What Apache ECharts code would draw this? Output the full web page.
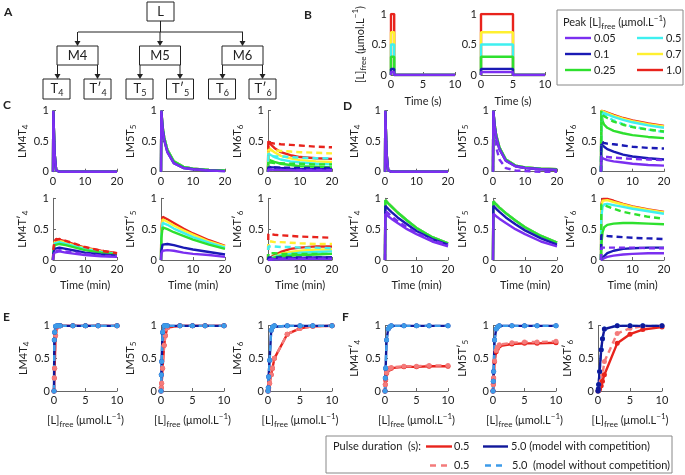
<!DOCTYPE html>
<html><head><meta charset="utf-8">
<script src="https://cdn.jsdelivr.net/npm/echarts@6/dist/echarts.min.js"></script>
<style>html,body{margin:0;padding:0;background:#fff}#c{width:685px;height:475px}</style>
</head><body><div id="c"></div>
<script>
// ---------- DATA ----------
const peakLabels = ['0.05','0.1','0.25','0.5','0.7','1.0'];      // purple, blue, green, cyan, yellow, red
const pulsePeak = [0.05, 0.1, 0.3, 0.5, 0.7, 1.0];
const pulseShortS = 0.5, pulseLongS = 5, pulseAxisMax = 10;
const T = [0, 0.1, 0.5, 1, 2, 4, 7, 10, 15, 20];                 // time (min)

const C1_all = [0, 1, 0.3, 0.02, 0, 0, 0, 0, 0, 0];
const C2_hi  = [0, 1, 0.74, 0.56, 0.36, 0.17, 0.08, 0.05, 0.03, 0.02];
const C2_lo  = [0, 1, 0.7, 0.52, 0.32, 0.14, 0.06, 0.04, 0.02, 0.01];
const C3_s = [
 [0,0.04,0.04,0.035,0.03,0.03,0.025,0.02,0.02,0.02],
 [0,0.08,0.08,0.075,0.07,0.06,0.05,0.045,0.04,0.04],
 [0,0.2,0.19,0.18,0.16,0.13,0.11,0.09,0.08,0.07],
 [0,0.3,0.29,0.27,0.24,0.2,0.17,0.15,0.13,0.12],
 [0,0.4,0.38,0.36,0.32,0.26,0.22,0.19,0.17,0.16],
 [0,0.5,0.47,0.44,0.39,0.32,0.27,0.24,0.22,0.21]];
const C3_d = [
 [0,0.035,0.035,0.035,0.035,0.03,0.03,0.03,0.03,0.03],
 [0,0.07,0.07,0.07,0.07,0.065,0.065,0.06,0.06,0.06],
 [0,0.15,0.15,0.15,0.14,0.14,0.13,0.13,0.12,0.12],
 [0,0.26,0.26,0.26,0.25,0.25,0.24,0.23,0.22,0.22],
 [0,0.36,0.36,0.35,0.35,0.34,0.33,0.32,0.31,0.3],
 [0,0.48,0.48,0.47,0.46,0.45,0.44,0.43,0.41,0.4]];
const C4_s = [
 [0,0.07,0.12,0.14,0.14,0.12,0.1,0.08,0.06,0.05],
 [0,0.1,0.18,0.21,0.2,0.18,0.15,0.12,0.09,0.07],
 [0,0.12,0.24,0.27,0.26,0.24,0.2,0.16,0.12,0.09],
 [0,0.13,0.27,0.3,0.29,0.26,0.22,0.18,0.13,0.1],
 [0,0.14,0.29,0.32,0.31,0.28,0.23,0.19,0.14,0.1],
 [0,0.15,0.3,0.34,0.33,0.3,0.25,0.2,0.15,0.11]];
const C4_d = [
 [0,0.08,0.14,0.17,0.16,0.14,0.12,0.1,0.07,0.06],
 null, null, null, null,
 [0,0.16,0.32,0.35,0.34,0.31,0.26,0.21,0.15,0.11]];
const C5_s = [
 [0,0.1,0.15,0.17,0.16,0.15,0.12,0.1,0.08,0.05],
 [0,0.15,0.25,0.27,0.26,0.24,0.2,0.17,0.13,0.09],
 [0,0.35,0.53,0.52,0.5,0.45,0.39,0.33,0.25,0.18],
 [0,0.4,0.6,0.59,0.57,0.51,0.44,0.37,0.28,0.2],
 [0,0.45,0.66,0.65,0.62,0.56,0.48,0.41,0.3,0.22],
 [0,0.5,0.7,0.69,0.66,0.6,0.51,0.43,0.32,0.23]];
const C6_s = [
 [0,0,0,0.005,0.01,0.01,0.015,0.02,0.02,0.02],
 [0,0,0.005,0.01,0.015,0.02,0.03,0.035,0.04,0.04],
 [0,0.005,0.01,0.02,0.04,0.06,0.07,0.08,0.09,0.1],
 [0,0.01,0.02,0.03,0.05,0.08,0.1,0.12,0.13,0.14],
 [0,0.01,0.02,0.04,0.06,0.1,0.13,0.15,0.17,0.17],
 [0,0.01,0.03,0.05,0.08,0.13,0.18,0.2,0.22,0.22]];
const C6_d = [
 [0,0.02,0.02,0.02,0.02,0.02,0.02,0.02,0.02,0.02],
 [0,0.04,0.04,0.04,0.04,0.04,0.04,0.04,0.04,0.04],
 [0,0.11,0.11,0.11,0.11,0.1,0.1,0.1,0.1,0.1],
 [0,0.22,0.22,0.22,0.22,0.21,0.21,0.2,0.2,0.19],
 [0,0.3,0.3,0.3,0.29,0.29,0.28,0.27,0.26,0.26],
 [0,0.42,0.42,0.42,0.41,0.4,0.39,0.38,0.37,0.36]];

const D2_hi = [0, 1, 0.78, 0.6, 0.4, 0.2, 0.1, 0.07, 0.05, 0.04];
const D2_lo = [0, 1, 0.75, 0.57, 0.37, 0.18, 0.09, 0.06, 0.04, 0.03];
const D2_d  = [0, 1, 0.6, 0.4, 0.2, 0.06, 0.02, 0.01, 0, 0];
const D3_s = [
 [0,0.23,0.22,0.21,0.19,0.17,0.15,0.13,0.11,0.1],
 [0,0.45,0.43,0.41,0.37,0.33,0.28,0.25,0.22,0.2],
 [0,1,0.83,0.77,0.72,0.67,0.63,0.6,0.57,0.55],
 [0,0.98,0.97,0.96,0.94,0.9,0.85,0.81,0.76,0.72],
 [0,1,0.99,0.98,0.96,0.92,0.87,0.83,0.78,0.74],
 [0,1,1,0.99,0.97,0.93,0.88,0.84,0.79,0.75]];
const D3_d = [
 [0,0.25,0.25,0.24,0.24,0.23,0.22,0.21,0.2,0.19],
 [0,0.48,0.48,0.47,0.46,0.45,0.43,0.41,0.39,0.38],
 [0,0.95,0.93,0.91,0.88,0.82,0.77,0.73,0.69,0.66],
 [0,0.97,0.95,0.93,0.9,0.84,0.78,0.74,0.69,0.65],
 null, null];
const D4_s = [
 [0,0.75,0.73,0.71,0.67,0.6,0.5,0.42,0.3,0.22],
 [0,0.88,0.86,0.83,0.78,0.69,0.58,0.47,0.34,0.25],
 [0,0.97,0.95,0.92,0.87,0.77,0.64,0.52,0.37,0.27],
 [0,0.97,0.95,0.92,0.87,0.77,0.64,0.52,0.37,0.27],
 [0,0.97,0.95,0.92,0.87,0.77,0.64,0.52,0.37,0.27],
 [0,0.97,0.95,0.92,0.87,0.77,0.64,0.52,0.37,0.27]];
const D4_d = [[0,0.8,0.78,0.76,0.71,0.63,0.53,0.44,0.32,0.24], null, null, null, null, null];
const D5_s = [
 [0,0.75,0.73,0.71,0.67,0.6,0.5,0.42,0.3,0.22],
 [0,0.88,0.86,0.83,0.78,0.69,0.58,0.48,0.35,0.25],
 [0,0.95,0.93,0.9,0.85,0.76,0.64,0.53,0.39,0.28],
 [0,0.95,0.93,0.9,0.85,0.76,0.64,0.53,0.39,0.28],
 [0,0.95,0.93,0.9,0.85,0.76,0.64,0.53,0.39,0.28],
 [0,0.95,0.93,0.9,0.85,0.76,0.64,0.53,0.39,0.28]];
const D6_s = [
 [0,0.005,0.02,0.03,0.05,0.07,0.09,0.1,0.11,0.11],
 [0,0.01,0.04,0.07,0.11,0.15,0.18,0.19,0.2,0.2],
 [0,0.25,0.45,0.53,0.57,0.59,0.6,0.6,0.59,0.58],
 [0,0.7,0.86,0.9,0.91,0.89,0.86,0.83,0.79,0.75],
 [0,0.85,0.96,0.98,0.97,0.94,0.9,0.86,0.81,0.77],
 [0,0.9,0.99,1,0.99,0.96,0.91,0.87,0.82,0.78]];
const D6_d = [
 [0,0.2,0.2,0.2,0.2,0.2,0.2,0.2,0.19,0.19],
 [0,0.4,0.4,0.4,0.39,0.38,0.37,0.36,0.35,0.34],
 [0,0.9,0.9,0.89,0.87,0.83,0.78,0.75,0.7,0.67],
 null, null, null];

const L = [0, 0.05, 0.1, 0.25, 0.5, 0.7, 1, 3, 5, 7, 10];   // [L]free
const E1_red  = [0,0.2,0.35,0.85,0.98,1,1,1,1,1,1];
const E1_blue = [0,0.78,0.9,0.99,1,1,1,1,1,1,1];
const E2_red  = [0,0.05,0.12,0.35,0.7,0.85,0.97,1,1,1,1];
const E2_blue = [0,0.25,0.45,0.9,1,1,1,1,1,1,1];
const E3_red  = [0,0.02,0.05,0.12,0.25,0.35,0.5,0.87,0.96,0.99,1];
const E3_blue = [0,0.05,0.22,0.47,0.93,0.98,1,1,1,1,1];
const F1_red  = [0,0.1,0.17,0.27,0.32,0.34,0.35,0.37,0.37,0.38,0.38];
const F1_redN = [0,0.1,0.18,0.28,0.33,0.35,0.36,0.38,0.38,0.39,0.39];
const F1_blue = [0,0.2,0.35,0.78,0.95,0.98,1,1,1,1,1];
const F2_red  = [0,0.1,0.2,0.45,0.6,0.65,0.69,0.72,0.73,0.73,0.74];
const F2_redN = [0,0.1,0.2,0.46,0.62,0.67,0.71,0.74,0.75,0.75,0.76];
const F2_blue = [0,0.15,0.3,0.78,0.95,0.98,1,1,1,1,1];
const F3_red  = [0,0.005,0.01,0.03,0.08,0.15,0.25,0.73,0.87,0.94,0.98];
const F3_redN = [0,0.01,0.02,0.06,0.15,0.25,0.45,0.88,0.96,0.99,1];
const F3_blue = [0,0.03,0.1,0.3,0.63,0.8,0.95,1,1,1,1];

// ---------- STYLE ----------
const FF = 'Lato, "Open Sans", sans-serif';
const PAL = ['#7b2ff0', '#1a1ab4', '#2ee02e', '#3ff0f0', '#fff030', '#e8231c'];
const RED = '#e8231c', RED_L = '#f47b7b', BLUE = '#10189a', BLUE_L = '#3d9be9';
const RICH = {
  n: {fontSize: 11, lineHeight: 12, padding: [3,0,0,0], verticalAlign: 'top', fontFamily: FF, color: '#222'},
  s: {fontSize: 8, lineHeight: 10, padding: [8,0,0,0], verticalAlign: 'top', fontFamily: FF, color: '#222'},
  p: {fontSize: 8, lineHeight: 8, verticalAlign: 'top', fontFamily: FF, color: '#222'},
  N: {fontSize: 13, lineHeight: 14, padding: [2,0,0,0], verticalAlign: 'top', fontFamily: FF, color: '#222'},
  S: {fontSize: 9, lineHeight: 10, padding: [9,0,0,0], verticalAlign: 'top', fontFamily: FF, color: '#222'}
};
const LFREE = '{n|[L]}{s|free}{n| (μmol.L}{p|−1}{n|)}';
const nm = (a, b) => `{n|${a}}{s|${b}}`;

const grids = [], xAxes = [], yAxes = [], series = [];
function panel(x0, y0, x1, y1, xmax, xint, yName, xName, xGap) {
  const i = grids.length;
  grids.push({left: x0, top: y0, width: x1 - x0, height: y1 - y0});
  const ax = {
    axisLine: {show: true, lineStyle: {color: '#666', width: 1}},
    axisTick: {show: true, inside: true, length: 3, lineStyle: {color: '#666'}},
    splitLine: {show: false},
    axisLabel: {color: '#222', fontSize: 11, fontFamily: FF, margin: 4}
  };
  xAxes.push(Object.assign({gridIndex: i, type: 'value', min: 0, max: xmax, interval: xint,
    name: xName || '', nameLocation: 'middle', nameGap: xGap || 20,
    nameTextStyle: {color: '#222', fontSize: 11, fontFamily: FF, rich: RICH}}, ax));
  yAxes.push(Object.assign({gridIndex: i, type: 'value', min: 0, max: 1, interval: 0.5,
    name: yName, nameLocation: 'middle', nameGap: 24, nameRotate: 90,
    nameTextStyle: {color: '#222', fontSize: 11, fontFamily: FF, rich: RICH}}, ax));
  return i;
}
function line(i, xs, ys, color, dashed, sym) {
  series.push({type: 'line', xAxisIndex: i, yAxisIndex: i,
    data: xs.map((x, k) => [x, ys[k]]),
    symbol: sym ? 'circle' : 'none', symbolSize: 5, showSymbol: !!sym,
    itemStyle: {color: color}, clip: true,
    lineStyle: {color: color, width: 2.4, type: dashed ? [6, 4] : 'solid'},
    animation: false, silent: true, z: 2});
}
function sixSolid(i, arr) { for (let c = 5; c >= 0; c--) line(i, T, arr[c], PAL[c], false); }
function sixDashed(i, arr) { for (let c = 5; c >= 0; c--) if (arr[c]) line(i, T, arr[c], PAL[c], true); }

// ---------- B ----------
const bL = panel(391, 14, 455, 75, pulseAxisMax, 5, LFREE, 'Time (s)', 21);
const bR = panel(481, 14, 545, 75, pulseAxisMax, 5, '', 'Time (s)', 21);
yAxes[bL].nameGap = 20;
for (let c = 5; c >= 0; c--) {
  const p = pulsePeak[c];
  line(bL, [0, 0, pulseShortS, pulseShortS, pulseAxisMax], [0, p, p, 0, 0], PAL[c], false);
  line(bR, [0, 0, pulseLongS, pulseLongS, pulseAxisMax], [0, p, p, 0, 0], PAL[c], false);
}

// ---------- C ----------
const yTop = [110.7, 171.7], yBot = [198.3, 260];
const c1 = panel(53, yTop[0], 117, yTop[1], 20, 10, nm('LM4T', '4'));
const c2 = panel(161, yTop[0], 225, yTop[1], 20, 10, nm('LM5T', '5'));
const c3 = panel(268, yTop[0], 332, yTop[1], 20, 10, nm('LM6T', '6'));
const c4 = panel(53, yBot[0], 117, yBot[1], 20, 10, nm('LM4T′', '4'), 'Time (min)');
const c5 = panel(161, yBot[0], 225, yBot[1], 20, 10, nm('LM5T′', '5'), 'Time (min)');
const c6 = panel(268, yBot[0], 332, yBot[1], 20, 10, nm('LM6T′', '6'), 'Time (min)');
for (let c = 5; c >= 0; c--) line(c1, T, C1_all, PAL[c], false);
for (let c = 5; c >= 0; c--) line(c2, T, c >= 2 ? C2_hi : C2_lo, PAL[c], false);
sixSolid(c3, C3_s); sixDashed(c3, C3_d);
sixSolid(c4, C4_s); sixDashed(c4, C4_d);
sixSolid(c5, C5_s);
sixSolid(c6, C6_s); sixDashed(c6, C6_d);

// ---------- D ----------
const d1 = panel(385, yTop[0], 448, yTop[1], 20, 10, nm('LM4T', '4'));
const d2 = panel(493, yTop[0], 557, yTop[1], 20, 10, nm('LM5T', '5'));
const d3 = panel(601, yTop[0], 664, yTop[1], 20, 10, nm('LM6T', '6'));
const d4 = panel(385, yBot[0], 448, yBot[1], 20, 10, nm('LM4T′', '4'), 'Time (min)');
const d5 = panel(493, yBot[0], 557, yBot[1], 20, 10, nm('LM5T′', '5'), 'Time (min)');
const d6 = panel(601, yBot[0], 664, yBot[1], 20, 10, nm('LM6T′', '6'), 'Time (min)');
for (let c = 5; c >= 0; c--) line(d1, T, C1_all, PAL[c], false);
line(d2, T, D2_d, PAL[0], true);
for (let c = 5; c >= 0; c--) line(d2, T, c >= 2 ? D2_hi : D2_lo, PAL[c], false);
sixSolid(d3, D3_s); sixDashed(d3, D3_d);
sixSolid(d4, D4_s); sixDashed(d4, D4_d);
sixSolid(d5, D5_s);
sixSolid(d6, D6_s); sixDashed(d6, D6_d);

// ---------- E / F ----------
const yEF = [325.7, 391];
const e1 = panel(54, yEF[0], 117, yEF[1], 10, 5, nm('LM4T', '4'), LFREE, 21);
const e2 = panel(161, yEF[0], 224, yEF[1], 10, 5, nm('LM5T', '5'), LFREE, 21);
const e3 = panel(268, yEF[0], 332, yEF[1], 10, 5, nm('LM6T', '6'), LFREE, 21);
const f1 = panel(385, yEF[0], 448, yEF[1], 10, 5, nm('LM4T′', '4'), LFREE, 21);
const f2 = panel(493, yEF[0], 556, yEF[1], 10, 5, nm('LM5T′', '5'), LFREE, 21);
const f3 = panel(598, yEF[0], 662, yEF[1], 10, 5, nm('LM6T′', '6'), LFREE, 21);
[[e1, E1_red, E1_red, E1_blue], [e2, E2_red, E2_red, E2_blue], [e3, E3_red, E3_red, E3_blue],
 [f1, F1_red, F1_redN, F1_blue], [f2, F2_red, F2_redN, F2_blue]].forEach(([g, r, rn, b]) => {
  line(g, L, r, RED, false, true);
  line(g, L, rn, RED_L, true, true);
  line(g, L, b, BLUE, false, true);
  line(g, L, b, BLUE_L, true, true);
});
line(f3, L, F3_redN, RED_L, true, true);
line(f3, L, F3_red, RED, false, true);
line(f3, L, F3_blue, BLUE_L, true, true);
line(f3, L, F3_blue, BLUE, false, true);

// ---------- GRAPHICS (diagram A, letters, legends) ----------
const G = [];
const txt = (x, y, s, o) => G.push({type: 'text', x, y, style: Object.assign({text: s, fill: '#222', font: '12px ' + FF, textVerticalAlign: 'middle'}, o || {})});
const rect = (x, y, w, h, stroke) => G.push({type: 'rect', shape: {x, y, width: w, height: h}, style: {fill: '#fff', stroke: stroke || '#222', lineWidth: 1}});
const seg = (x1, y1, x2, y2, o) => G.push({type: 'line', shape: {x1, y1, x2, y2}, style: Object.assign({stroke: '#222', lineWidth: 1}, o || {})});
const arrow = (x, y1, y2) => { seg(x, y1, x, y2 - 4); G.push({type: 'polygon', shape: {points: [[x - 3, y2 - 5], [x + 3, y2 - 5], [x, y2]]}, style: {fill: '#222'}}); };

// panel letters
[['A', 4, 12], ['B', 304, 15], ['C', 3, 105], ['D', 343, 106], ['E', 3, 317], ['F', 342, 317]].forEach(([s, x, y]) =>
  txt(x, y, s, {font: 'bold 12px ' + FF}));

// diagram A
rect(147, 2, 27, 19); txt(160.5, 12, 'L', {textAlign: 'center', font: '13px ' + FF});
seg(160.5, 21, 160.5, 32);
seg(78, 32, 243, 32);
const mx = [[57, 'M4'], [139.5, 'M5'], [222, 'M6']];
mx.forEach(([x, s]) => {
  arrow(x + 20.5, 32, 46);
  rect(x, 46, 41, 19); txt(x + 20.5, 55.5, s, {textAlign: 'center', font: '13px ' + FF});
  arrow(x + 0.5, 65, 79); arrow(x + 40.5, 65, 79);
});
const tb = [[56.5, 'T', '4'], [97.5, 'T′', '4'], [139.5, 'T', '5'], [180, 'T′', '5'], [222, 'T', '6'], [262.5, 'T′', '6']];
tb.forEach(([x, a, b]) => {
  rect(x - 13.5, 79, 27, 20);
  G.push({type: 'text', x: x - (a.length > 1 ? 8 : 6), y: 80, style: {text: `{N|${a}}{S|${b}}`, rich: RICH, fill: '#222'}});
});

// legend B
rect(557, 10, 126, 75, '#888');
G.push({type: 'text', x: 563, y: 14, style: {text: '{n|Peak [L]}{s|free}{n| (μmol.L}{p|−1}{n|)}', rich: RICH, fill: '#222'}});
for (let c = 0; c < 6; c++) {
  const col = c < 3 ? 0 : 1, row = c % 3;
  const x = col ? 637 : 565, y = 38 + row * 16;
  seg(x, y, x + 26, y, {stroke: PAL[c], lineWidth: 2.4});
  txt(x + 29, y, peakLabels[c], {font: '11px ' + FF});
}

// legend bottom
rect(326, 436, 346, 37, '#888');
txt(333, 446.5, 'Pulse duration  (s):', {font: '11px ' + FF});
seg(426, 446.5, 452, 446.5, {stroke: RED, lineWidth: 2.4});
txt(454, 446.5, '0.5', {font: '11px ' + FF});
seg(483, 446.5, 508, 446.5, {stroke: BLUE, lineWidth: 2.4});
txt(511, 446.5, '5.0 (model with competition)', {font: '11px ' + FF});
seg(430, 465.5, 448, 465.5, {stroke: RED_L, lineWidth: 2.4, lineDash: [6, 5]});
txt(454, 465.5, '0.5', {font: '11px ' + FF});
seg(485, 465.5, 504, 465.5, {stroke: BLUE_L, lineWidth: 2.4, lineDash: [6, 5]});
txt(512, 465.5, '5.0  (model without competition)', {font: '11px ' + FF});

const chart = echarts.init(document.getElementById('c'), null, {renderer: 'canvas'});
chart.setOption({
  animation: false,
  backgroundColor: '#fff',
  grid: grids, xAxis: xAxes, yAxis: yAxes, series: series,
  graphic: {elements: G}
});
</script></body></html>
